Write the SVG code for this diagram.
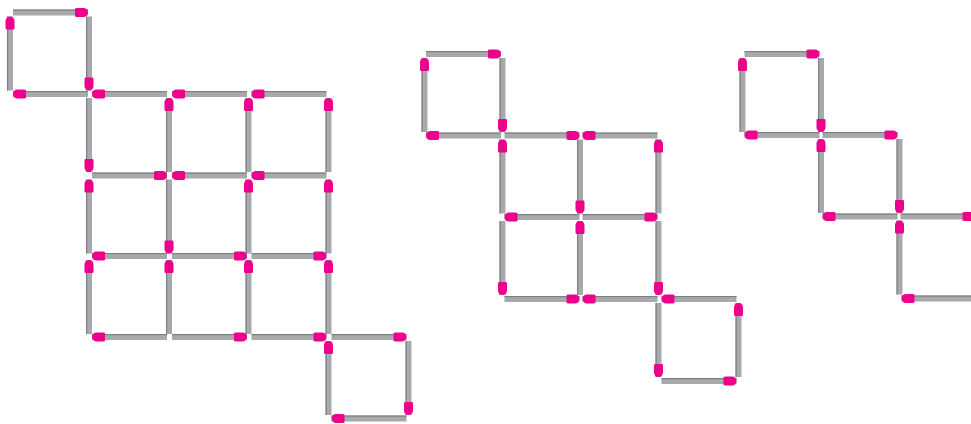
<svg xmlns="http://www.w3.org/2000/svg" xmlns:xlink="http://www.w3.org/1999/xlink" width="971" height="424" viewBox="0 0 971 424">
<style>
.body{fill:#a7a9ac}
.edge{fill:#7d7f82}
.head{fill:#ec008c}
</style>
<defs>
<g id="hR"><rect class="body" x="0" y="-3" width="75" height="6"/><rect class="edge" x="0" y="-3" width="75" height="1.2"/><path class="head" d="M62 -3.8Q62.5 -4.5 64 -4.5L70.5 -4.5A4.5 4.5 0 0 1 70.5 4.5L64 4.5Q62.5 4.5 62 3.8Z"/></g>
<g id="hL"><rect class="body" x="0" y="-3" width="75" height="6"/><rect class="edge" x="0" y="-3" width="75" height="1.2"/><path class="head" d="M13 -3.8Q12.5 -4.5 11 -4.5L4.5 -4.5A4.5 4.5 0 0 0 4.5 4.5L11 4.5Q12.5 4.5 13 3.8Z"/></g>
<g id="vB"><rect class="body" x="-3" y="0" width="6" height="74"/><rect class="edge" x="-3" y="0" width="1.2" height="74"/><path class="head" d="M-3.8 61Q-4.5 61.5 -4.5 63L-4.5 69.5A4.5 4.5 0 0 0 4.5 69.5L4.5 63Q4.5 61.5 3.8 61Z"/></g>
<g id="vT"><rect class="body" x="-3" y="0" width="6" height="74"/><rect class="edge" x="-3" y="0" width="1.2" height="74"/><path class="head" d="M-3.8 13Q-4.5 12.5 -4.5 11L-4.5 4.5A4.5 4.5 0 0 1 4.5 4.5L4.5 11Q4.5 12.5 3.8 13Z"/></g>
</defs>
<rect width="971" height="424" fill="#ffffff"/>
<g id="figure1">
<use href="#hR" x="13" y="12.5"/>
<use href="#vT" x="10" y="16.5"/>
<use href="#vB" x="89" y="16.5"/>
<use href="#hL" x="13" y="94"/>
<use href="#hL" x="92" y="94"/>
<use href="#hL" x="172" y="94"/>
<use href="#hL" x="251.5" y="94"/>
<use href="#vB" x="89" y="98"/>
<use href="#vT" x="169" y="98"/>
<use href="#vT" x="248.5" y="98"/>
<use href="#vT" x="328.5" y="98"/>
<use href="#hR" x="92" y="175.5"/>
<use href="#hL" x="172" y="175.5"/>
<use href="#hL" x="251.5" y="175.5"/>
<use href="#vT" x="89" y="179.5"/>
<use href="#vB" x="169" y="179.5"/>
<use href="#vT" x="248.5" y="179.5"/>
<use href="#vT" x="328.5" y="179.5"/>
<use href="#hL" x="92" y="256"/>
<use href="#hR" x="172" y="256"/>
<use href="#hR" x="251.5" y="256"/>
<use href="#vT" x="89" y="260"/>
<use href="#vT" x="169" y="260"/>
<use href="#vT" x="248.5" y="260"/>
<use href="#vT" x="328.5" y="260"/>
<use href="#hL" x="92" y="337"/>
<use href="#hR" x="172" y="337"/>
<use href="#hR" x="251.5" y="337"/>
<use href="#hR" x="331.5" y="337"/>
<use href="#vT" x="328.5" y="341"/>
<use href="#vB" x="408.5" y="341"/>
<use href="#hL" x="331.5" y="418.5"/>
</g>
<g id="figure2">
<use href="#hR" x="426" y="54"/>
<use href="#vT" x="424.5" y="58"/>
<use href="#vB" x="502.5" y="58"/>
<use href="#hL" x="426" y="135.5"/>
<use href="#hR" x="504.5" y="135.5"/>
<use href="#hL" x="582.5" y="135.5"/>
<use href="#vT" x="502.5" y="139.5"/>
<use href="#vB" x="580" y="139.5"/>
<use href="#vT" x="658.5" y="139.5"/>
<use href="#hL" x="504.5" y="217"/>
<use href="#hR" x="582.5" y="217"/>
<use href="#vB" x="502.5" y="221"/>
<use href="#vT" x="580" y="221"/>
<use href="#vB" x="658.5" y="221"/>
<use href="#hR" x="504.5" y="299"/>
<use href="#hL" x="582.5" y="299"/>
<use href="#hL" x="661.5" y="299"/>
<use href="#vB" x="658.5" y="303"/>
<use href="#vT" x="738.5" y="303"/>
<use href="#hR" x="661.5" y="381"/>
</g>
<g id="figure3">
<use href="#hR" x="744.5" y="54"/>
<use href="#vT" x="742.5" y="58"/>
<use href="#vB" x="821" y="58"/>
<use href="#hL" x="744.5" y="135"/>
<use href="#hR" x="822.5" y="135"/>
<use href="#vT" x="821" y="139"/>
<use href="#vB" x="899.5" y="139"/>
<use href="#hL" x="822.5" y="216.5"/>
<use href="#hR" x="900.5" y="216.5"/>
<use href="#vT" x="899.5" y="220.5"/>
<use href="#hL" x="901.5" y="298.5"/>
</g>
</svg>
